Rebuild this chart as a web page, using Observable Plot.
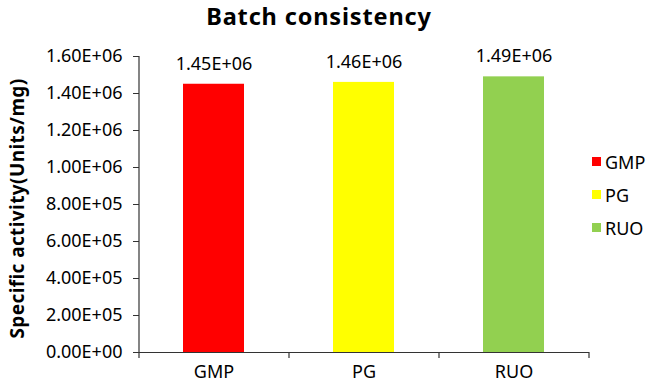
<!DOCTYPE html>
<html>
<head>
<meta charset="utf-8">
<script src="https://cdn.jsdelivr.net/npm/d3@7"></script>
<script src="https://cdn.jsdelivr.net/npm/@observablehq/plot@0.6"></script>
<style>
  html, body { margin: 0; padding: 0; background: #fff; }
  #wrap { position: relative; width: 650px; height: 384px; font-family: "Noto Sans", sans-serif; }
  #title { position: absolute; left: 0; width: 638px; top: 0px; line-height: normal; text-align: center; font-weight: bold; font-size: 23.5px; letter-spacing: 0.85px; color: #000; }
  #legend { position: absolute; left: 592px; top: 145px; font-size: 18px; color: #000; }
  .item { height: 33px; display: flex; align-items: center; }
  .sw { width: 9px; height: 9px; margin-right: 4px; }
  svg { position: absolute; left: 0; top: 0; }
</style>
</head>
<body>
<div id="wrap">
  <div id="title"></div>
  <div id="legend"></div>
</div>
<script>
const titleText = "Batch consistency";
const yLabel = "Specific activity(Units/mg)";
const categories = ["GMP", "PG", "RUO"];
const values = [1450000, 1460000, 1490000];
const colors = ["#FF0000", "#FFFF00", "#92D050"];
const yTicks = [0, 200000, 400000, 600000, 800000, 1000000, 1200000, 1400000, 1600000];

const data = categories.map((c, i) => ({cat: c, value: values[i]}));
const fmt = d => {
  const [m, e] = d.toExponential(2).split("e");
  return m + "E" + e[0] + e.slice(1).padStart(2, "0");
};
const axisColor = "#333";
const fs = 18;

const chart = Plot.plot({
  width: 650,
  height: 384,
  marginLeft: 139,
  marginRight: 61,
  marginTop: 56,
  marginBottom: 32,
  style: {fontFamily: "'Noto Sans', sans-serif", fontSize: fs + "px", color: "#000", background: "transparent"},
  x: {domain: categories, paddingInner: 0.593, paddingOuter: 0.2965, axis: null},
  y: {domain: [0, yTicks[yTicks.length - 1]], axis: null},
  color: {domain: categories, range: colors},
  marks: [
    Plot.barY(data, {x: "cat", y: "value", fill: "cat"}),
    Plot.ruleY([0], {stroke: axisColor, strokeWidth: 1.2}),
    Plot.ruleX(categories.slice(0, 1), {x: d => d, dx: -75, y1: 0, y2: yTicks[yTicks.length - 1], stroke: axisColor, strokeWidth: 1.2}),
    Plot.ruleX(categories, {x: d => d, dx: -75, y: 0, insetBottom: -6, stroke: axisColor, strokeWidth: 1.2}),
    Plot.ruleX(categories.slice(-1), {x: d => d, dx: 75, y: 0, insetBottom: -6, stroke: axisColor, strokeWidth: 1.2}),
    Plot.axisY({ticks: yTicks, tickFormat: fmt, tickSize: 6, tickPadding: 11, stroke: axisColor, fontSize: fs, label: null}),
    Plot.axisX({tickSize: 0, tickPadding: 13, fontSize: fs, label: null}),
    Plot.text(data, {x: "cat", y: "value", text: d => fmt(d.value), dy: -20.5, fontSize: fs, fill: "#000"}),
    Plot.text([yLabel], {text: d => d, frameAnchor: "left", textAnchor: "middle", rotate: -90, dx: -122, dy: 4, fontSize: 19, fontWeight: "bold", fill: "#000"})
  ]
});

d3.select(chart).selectAll("text").filter(function() { return this.textContent === yLabel; }).attr("letter-spacing", "0.4px");

document.getElementById("title").textContent = titleText;
const wrap = document.getElementById("wrap");
wrap.appendChild(chart);
const legend = document.getElementById("legend");
categories.forEach((c, i) => {
  const it = document.createElement("div");
  it.className = "item";
  const sw = document.createElement("div");
  sw.className = "sw";
  sw.style.background = colors[i];
  const t = document.createElement("span");
  t.textContent = c;
  it.appendChild(sw);
  it.appendChild(t);
  legend.appendChild(it);
});
</script>
</body>
</html>
